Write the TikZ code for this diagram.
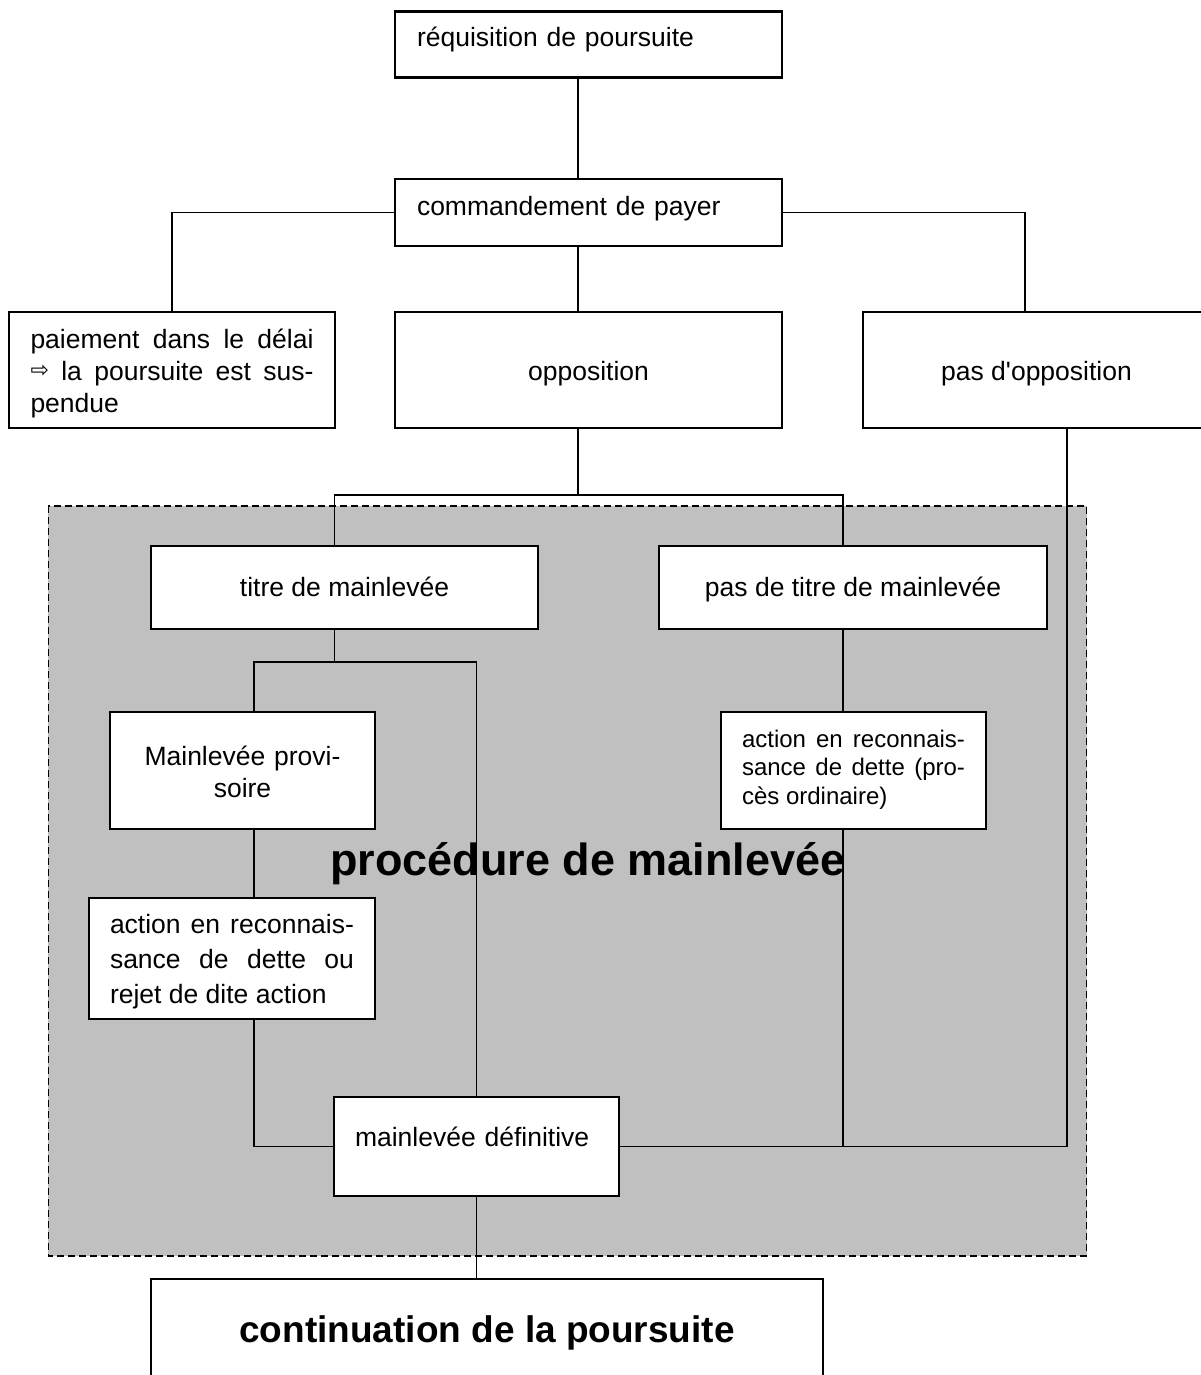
\documentclass[tikz,border=0pt]{standalone}
\usepackage{fontspec}
\setmainfont{Liberation Sans}
\newfontfamily\rawsans{Liberation Sans}
\newfontfamily\djv{DejaVu Sans}
\pgfdeclarelayer{back}
\pgfdeclarelayer{mid}
\pgfsetlayers{back,mid,main}
\definecolor{zonegray}{HTML}{C0C0C0}
\tikzset{
  box/.style={draw, line width=2.3pt, fill=white, inner ysep=0pt, inner xsep=0pt,
    font=\fontsize{26.5}{32}\selectfont, text depth=6pt},
  jbox/.style={box, align=justify},
  conn/.style={line width=1.9pt},
  zone/.style={fill=zonegray, draw, line width=1.2pt, dash pattern=on 7pt off 4pt}
}
\begin{document}
\begin{tikzpicture}[x=1pt, y=-1pt]
\useasboundingbox (0,0) rectangle (1201,1375);

% boxes
\node[box, minimum width=387pt, minimum height=66pt, text width=343pt, inner xsep=22pt, align=left, text height=10.4pt] (req) at (588.5,44.5) {réquisition de poursuite};
\node[box, minimum width=387pt, minimum height=67pt, text width=343pt, inner xsep=22pt, align=left, text height=11pt] (comm) at (588.5,212.5) {commandement de payer};
\node[jbox, minimum width=326pt, minimum height=116pt, text width=283pt, inner xsep=21.5pt, text height=26pt, text depth=70pt] (pay) at (172,370)
  {\hyphenpenalty=10000 \tolerance=10000 paiement dans le délai\linebreak \raisebox{3pt}{\djv\fontsize{22}{22}\selectfont ⇨} la poursuite est sus-\linebreak pendue};
\node[box, minimum width=387pt, minimum height=116pt, text height=26.6pt] (opp) at (588.5,370) {opposition};
\node[box, minimum width=347pt, minimum height=116pt, text height=26.6pt] (pasopp) at (1036.5,370) {\rawsans pas d'opposition};
\node[box, minimum width=387pt, minimum height=83pt, text height=24.4pt] (titre) at (344.5,587.5) {titre de mainlevée};
\node[box, minimum width=388pt, minimum height=83pt, text height=24.4pt] (pastitre) at (853,587.5) {pas de titre de mainlevée};
\node[box, minimum width=265pt, minimum height=117pt, text width=230pt, inner xsep=17.5pt, align=center, text height=27pt, text depth=38pt] (prov) at (242.5,770.5) {Mainlevée provi-\\soire};
\node[jbox, minimum width=286pt, minimum height=121pt, text width=244pt, inner xsep=21pt, font=\fontsize{26.5}{35}\selectfont, text height=25pt, text depth=76pt] (actL) at (232,958.5)
  {\hyphenpenalty=10000 \tolerance=10000 action en reconnais-\linebreak sance de dette ou\linebreak rejet de dite action};
\node[jbox, minimum width=265pt, minimum height=117pt, text width=223pt, inner xsep=21pt, font=\fontsize{24}{28.5}\selectfont, text height=16pt, text depth=63pt] (actR) at (853.5,770.5)
  {\hyphenpenalty=10000 \tolerance=10000 action en reconnais-\linebreak sance de dette (pro-\linebreak cès ordinaire)};
\node[box, minimum width=285pt, minimum height=99pt, text width=243pt, inner xsep=21pt, align=left, text height=6.6pt] (def) at (476.5,1146.5) {mainlevée définitive};
\node[box, minimum width=672pt, minimum height=108pt, font=\bfseries\fontsize{37}{44}\selectfont, text height=25.4pt] (cont) at (487,1333) {continuation de la poursuite};

\coordinate (j1) at (578,495);
\coordinate (p1) at (254,662);
\coordinate (j2) at (334.5,662);

\begin{pgfonlayer}{back}
  \fill[white] (0,0) rectangle (1201,1375);
  \path[zone] (48.4,506) rectangle (1086.8,1256);
  \node[font=\bfseries\fontsize{45}{54}\selectfont, anchor=base, inner sep=0pt] (proc) at (588,875) {procédure de mainlevée};
\end{pgfonlayer}

\begin{pgfonlayer}{mid}
  \draw[conn] ([xshift=-10.5pt]req.south) -- ([xshift=-10.5pt]comm.north);
  \draw[conn] (comm.west) -| (pay.north);
  \draw[conn] (comm.east) -| ([xshift=-11.5pt]pasopp.north);
  \draw[conn] ([xshift=-10.5pt]comm.south) -- ([xshift=-10.5pt]opp.north);
  \draw[conn] ([xshift=-10.5pt]opp.south) -- (j1);
  \draw[conn] ([xshift=-10pt]titre.north) |- (j1) -| ([xshift=-10pt]pastitre.north);
  \draw[conn] ([xshift=-10pt]titre.south) -- (j2);
  \draw[conn] (p1 |- prov.north) -- (p1) -| (def.north);
  \draw[conn] (p1 |- prov.south) -- (p1 |- actL.north);
  \draw[conn] (p1 |- actL.south) |- (def.west);
  \draw[conn] ([xshift=-10pt]pastitre.south) -- ([xshift=-10pt]pastitre.south |- actR.north);
  \draw[conn] ([xshift=-10pt]pastitre.south |- actR.south) -- ([xshift=-10pt]pastitre.south |- def.east);
  \draw[conn] (def.east) -| ([xshift=30.3pt]pasopp.south);
  \draw[conn] (def.south) -- (def.south |- cont.north);
\end{pgfonlayer}
\end{tikzpicture}
\end{document}
